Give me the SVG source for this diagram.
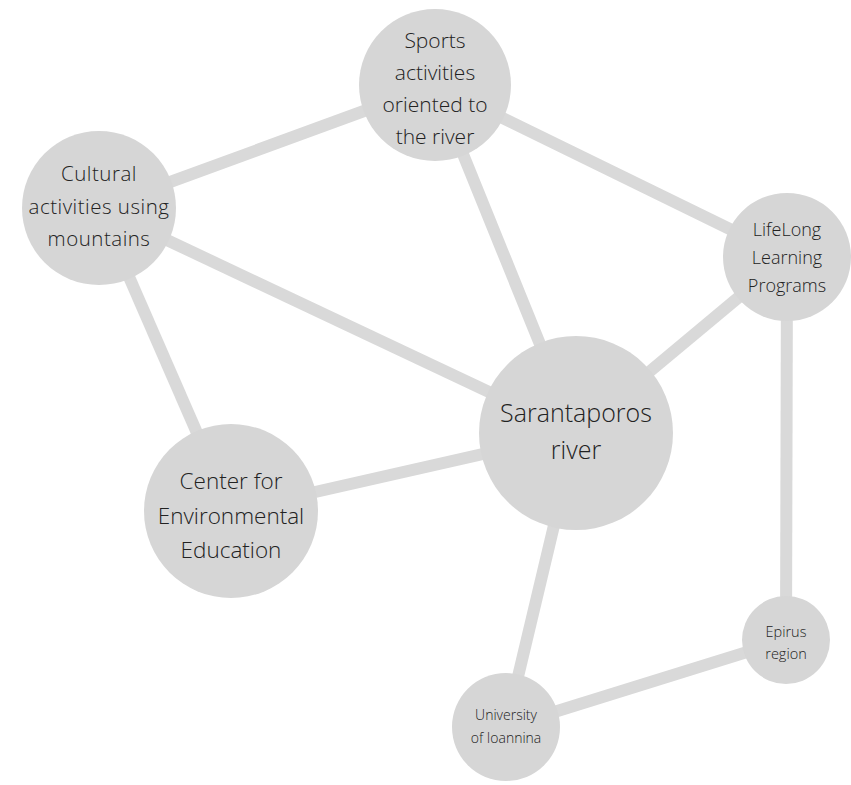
<svg xmlns="http://www.w3.org/2000/svg" width="851" height="785" viewBox="0 0 851 785">
<style>
.e{stroke:#d9d9d9;stroke-width:12;fill:none}
.n{fill:#d6d6d6}
text{font-family:"Open Sans","Noto Sans",sans-serif;font-weight:300;fill:#222;text-anchor:middle;dominant-baseline:central}
</style>
<rect width="851" height="785" fill="#fff"/>
<g id="connectors">
<line class="e" x1="435" y1="85" x2="99" y2="208"/>
<line class="e" x1="435" y1="85" x2="787" y2="257"/>
<line class="e" x1="435" y1="85" x2="576" y2="433"/>
<line class="e" x1="99" y1="208" x2="576" y2="433"/>
<line class="e" x1="99" y1="208" x2="231" y2="511"/>
<line class="e" x1="231" y1="511" x2="576" y2="433"/>
<line class="e" x1="576" y1="433" x2="787" y2="257"/>
<line class="e" x1="576" y1="433" x2="506" y2="727"/>
<line class="e" x1="787" y1="257" x2="786" y2="640"/>
<line class="e" x1="786" y1="640" x2="506" y2="727"/>
</g>
<g id="sports"><circle class="n" cx="435" cy="85" r="76"/>
<text font-size="21"><tspan x="435" y="40">Sports</tspan><tspan x="435" y="72">activities</tspan><tspan x="435" y="104">oriented to</tspan><tspan x="435" y="136">the river</tspan></text></g>
<g id="cultural"><circle class="n" cx="99" cy="208" r="77"/>
<text font-size="20.5" letter-spacing="0.5"><tspan x="99" y="173">Cultural</tspan><tspan x="99" y="206">activities using</tspan><tspan x="99" y="238">mountains</tspan></text></g>
<g id="lifelong"><circle class="n" cx="787" cy="257" r="64"/>
<text font-size="18"><tspan x="787" y="229">LifeLong</tspan><tspan x="787" y="257">Learning</tspan><tspan x="787" y="285">Programs</tspan></text></g>
<g id="sarantaporos"><circle class="n" cx="576" cy="433" r="97"/>
<text font-size="25"><tspan x="576" y="412">Sarantaporos</tspan><tspan x="576" y="449">river</tspan></text></g>
<g id="center"><circle class="n" cx="231" cy="511" r="87"/>
<text font-size="22.5"><tspan x="231" y="480">Center for</tspan><tspan x="231" y="515">Environmental</tspan><tspan x="231" y="549">Education</tspan></text></g>
<g id="epirus"><circle class="n" cx="786" cy="640" r="44"/>
<text font-size="14.5"><tspan x="786" y="631">Epirus</tspan><tspan x="786" y="653">region</tspan></text></g>
<g id="university"><circle class="n" cx="506" cy="727" r="54"/>
<text font-size="14"><tspan x="506" y="714">University</tspan><tspan x="506" y="737">of Ioannina</tspan></text></g>
</svg>
